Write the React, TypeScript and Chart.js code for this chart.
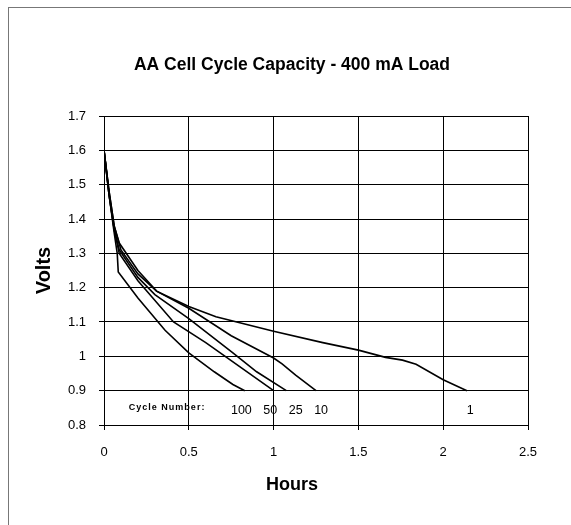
import React, { useEffect, useRef } from "react";
import { Chart, registerables } from "chart.js";

Chart.register(...registerables);

const FONT = '"Liberation Sans", Arial, Helvetica, sans-serif';

const chartTitle = "AA Cell Cycle Capacity - 400 mA Load";
const xAxisTitle = "Hours";
const yAxisTitle = "Volts";
const cycleCaption = "Cycle Number:";

const cycleNumbers = ["1", "10", "25", "50", "100"];
// where each cycle-number label sits along the Hours axis
const cycleLabelHours = [2.16, 1.28, 1.13, 0.98, 0.81];

const hoursCycle1 = [0, 0.03, 0.06, 0.09, 0.2, 0.31, 0.5, 0.66, 1.0, 1.29, 1.5, 1.66, 1.76, 1.84, 2.0, 2.14];
const voltsCycle1 = [1.6, 1.48, 1.38, 1.33, 1.25, 1.19, 1.145, 1.115, 1.073, 1.04, 1.018, 0.997, 0.989, 0.977, 0.932, 0.9];

const hoursCycle10 = [0, 0.03, 0.06, 0.1, 0.2, 0.31, 0.5, 0.75, 1.0, 1.05, 1.13, 1.25];
const voltsCycle10 = [1.6, 1.48, 1.38, 1.31, 1.24, 1.19, 1.14, 1.06, 0.995, 0.978, 0.945, 0.9];

const hoursCycle25 = [0, 0.03, 0.06, 0.09, 0.2, 0.3, 0.5, 0.76, 0.9, 1.075];
const voltsCycle25 = [1.6, 1.47, 1.37, 1.31, 1.23, 1.18, 1.11, 1.01, 0.955, 0.9];

const hoursCycle50 = [0, 0.03, 0.06, 0.09, 0.2, 0.41, 0.6, 0.8, 1.0];
const voltsCycle50 = [1.6, 1.47, 1.37, 1.3, 1.22, 1.1, 1.04, 0.97, 0.9];

const hoursCycle100 = [0, 0.03, 0.06, 0.078, 0.084, 0.2, 0.36, 0.5, 0.65, 0.76, 0.83];
const voltsCycle100 = [1.6, 1.47, 1.36, 1.3, 1.246, 1.17, 1.076, 1.01, 0.955, 0.918, 0.9];

const seriesHours = [hoursCycle1, hoursCycle10, hoursCycle25, hoursCycle50, hoursCycle100];
const seriesVolts = [voltsCycle1, voltsCycle10, voltsCycle25, voltsCycle50, voltsCycle100];

const xMin = 0;
const xMax = 2.5;
const xStep = 0.5;
const yMin = 0.8;
const yMax = 1.7;
const yStep = 0.1;

const fmt = (v: number | string) => String(+Number(v).toFixed(2));

const cycleLabelPlugin = {
  id: "cycleLabels",
  afterDatasetsDraw(chart: any) {
    const { ctx, scales } = chart;
    const xs = scales.x;
    const ys = scales.y;
    ctx.save();
    ctx.fillStyle = "#000";
    ctx.textBaseline = "middle";
    ctx.textAlign = "center";
    ctx.font = `12.5px ${FONT}`;
    const labelY = ys.getPixelForValue(0.843);
    let firstLabelX = Infinity;
    cycleLabelHours.forEach((h, i) => {
      const px = xs.getPixelForValue(h);
      firstLabelX = Math.min(firstLabelX, px);
      ctx.fillText(cycleNumbers[i], px, labelY);
    });
    ctx.font = `bold 9px ${FONT}`;
    (ctx as any).letterSpacing = "1px";
    ctx.textAlign = "right";
    ctx.fillText(cycleCaption, firstLabelX - 36, ys.getPixelForValue(0.85));
    ctx.restore();
  },
};

export default function App() {
  const canvasRef = useRef<HTMLCanvasElement | null>(null);

  useEffect(() => {
    if (!canvasRef.current) return;
    const datasets = seriesHours.map((h, i) => ({
      label: cycleNumbers[i],
      data: h.map((x, j) => ({ x, y: seriesVolts[i][j] })),
      showLine: true,
      borderColor: "#000",
      backgroundColor: "#000",
      borderWidth: 1.6,
      pointRadius: 0,
      tension: 0,
      fill: false,
    }));

    const chart = new Chart(canvasRef.current, {
      type: "scatter",
      data: { datasets },
      options: {
        animation: false,
        responsive: false,
        maintainAspectRatio: false,
        layout: { padding: { left: 56, right: 43, top: 0, bottom: 0 } },
        plugins: {
          legend: { display: false },
          tooltip: { enabled: false },
          title: {
            display: true,
            text: chartTitle,
            color: "#000",
            font: { family: FONT, size: 17.5, weight: "bold" },
            padding: { top: 54.5, bottom: 40.5 },
          },
          subtitle: {
            display: true,
            text: xAxisTitle,
            position: "bottom",
            color: "#000",
            font: { family: FONT, size: 18, weight: "bold" },
            padding: { top: 9.7, bottom: 28.7 },
          },
        },
        scales: {
          x: {
            type: "linear",
            min: xMin,
            max: xMax,
            afterFit: (s: any) => {
              s.height = 40;
            },
            ticks: {
              stepSize: xStep,
              color: "#000",
              padding: 15,
              font: { family: FONT, size: 13 },
              callback: (v: any) => fmt(v),
            },
            grid: { color: "#000", lineWidth: 1, tickLength: 5 },
            border: { color: "#000", width: 1 },
          },
          y: {
            type: "linear",
            min: yMin,
            max: yMax,
            afterFit: (s: any) => {
              s.width = 48;
            },
            ticks: {
              stepSize: yStep,
              color: "#000",
              padding: 13,
              font: { family: FONT, size: 13 },
              callback: (v: any) => fmt(v),
            },
            grid: { color: "#000", lineWidth: 1, tickLength: 5 },
            border: { color: "#000", width: 1 },
            title: {
              display: true,
              text: yAxisTitle,
              color: "#000",
              font: { family: FONT, size: 20, weight: "bold" },
              padding: { top: -24, bottom: 0 },
            },
          },
        },
      },
      plugins: [cycleLabelPlugin],
    } as any);

    return () => chart.destroy();
  }, []);

  return (
    <div style={{ position: "absolute", left: 0, top: 0, width: 571, height: 525, overflow: "hidden", background: "#fff" }}>
      <div
        style={{
          position: "absolute",
          left: 8,
          top: 7,
          width: 700,
          height: 700,
          borderLeft: "1px solid #777",
          borderTop: "1px solid #777",
        }}
      />
      <canvas ref={canvasRef} width={571} height={525} style={{ position: "absolute", left: 0, top: 0, width: 571, height: 525 }} />
    </div>
  );
}
